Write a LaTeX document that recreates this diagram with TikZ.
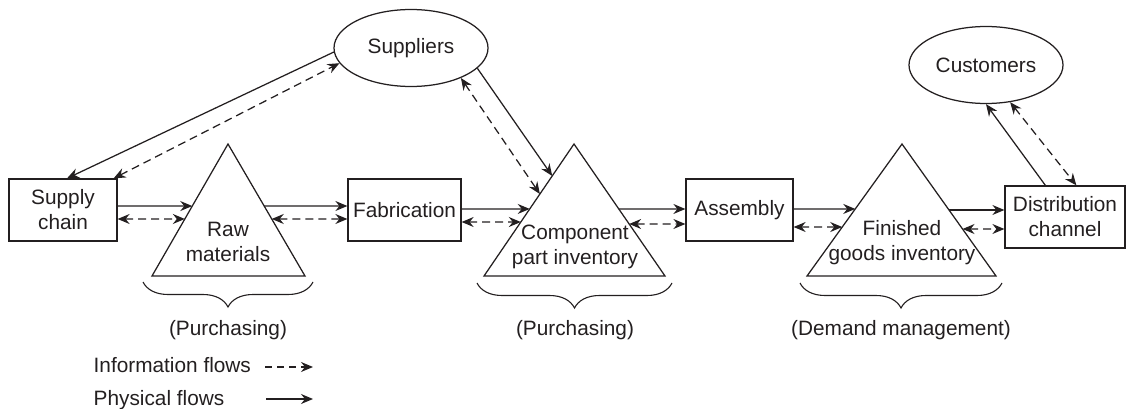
\documentclass[tikz,border=0pt]{standalone}
\usepackage{fontspec}
\setmainfont{Liberation Sans}
\usetikzlibrary{shapes.geometric,arrows.meta,calc,decorations.pathreplacing}
\definecolor{ink}{RGB}{35,31,32}
\begin{document}
\begin{tikzpicture}[x=1pt,y=-1pt,
  >={Stealth[length=12pt,width=10pt,inset=4pt]},
  every node/.style={font=\fontsize{20.8}{25}\selectfont, text=ink},
  box/.style={draw=ink, line width=1.25pt, inner sep=0pt, align=center, minimum height=62pt},
  oval/.style={draw=ink, ellipse, line width=1.25pt, minimum width=154pt, minimum height=77pt, inner sep=0pt},
  tri/.style={draw=ink, line width=1.25pt},
  phys/.style={draw=ink, line width=1.25pt, ->},
  info/.style={draw=ink, line width=1.25pt, <->, dash pattern=on 8pt off 5pt},
  bracebelow/.style={draw=ink, line width=1.1pt, decorate, decoration={brace, mirror, amplitude=25pt}}
]
\useasboundingbox (0,0) rectangle (1127,409);

% boxes and ovals
\node[box, minimum width=108pt] (sc) at (63,210) {Supply\\chain};
\node[box, minimum width=113pt] (fab) at (404.5,210) {Fabrication};
\node[box, minimum width=107pt] (asm) at (739.5,210) {Assembly};
\node[box, minimum width=120pt] (dist) at (1065,217) {Distribution\\channel};
\node[oval] (sup) at (411,48) {Suppliers};
\node[oval] (cus) at (986,65) {Customers};

% triangles
\coordinate (rawA) at (228,144); \coordinate (rawL) at (152,276); \coordinate (rawR) at (305,276);
\draw[tri] (rawA) -- (rawL) -- (rawR) -- cycle;
\node[align=center] (raw) at (228,242) {Raw\\materials};

\coordinate (compA) at (574,144); \coordinate (compL) at (484,276); \coordinate (compR) at (665,276);
\draw[tri] (compA) -- (compL) -- (compR) -- cycle;
\node[align=center] (comp) at (575,247) {Component\\part inventory};

\coordinate (finA) at (902,144); \coordinate (finL) at (807,276); \coordinate (finR) at (996,276);
\draw[tri] (finA) -- (finL) -- (finR) -- cycle;
\node[align=center] (fin) at (902,243) {Finished\\goods inventory};

% horizontal flows
\draw[phys] ($(sc.east)+(0,-4)$) -- ($(rawA)!0.47!(rawL)$);
\draw[info] ($(sc.east)+(0,9)$) -- ($(rawA)!0.568!(rawL)$);
\draw[phys] ($(rawA)!0.47!(rawR)$) -- ($(fab.west)+(0,-4)$);
\draw[info] ($(rawA)!0.568!(rawR)$) -- ($(fab.west)+(0,9)$);
\draw[phys] ($(fab.east)+(0,-1)$) -- ($(compA)!0.492!(compL)$);
\draw[info] ($(fab.east)+(0,12)$) -- ($(compA)!0.591!(compL)$);
\draw[phys] ($(compA)!0.492!(compR)$) -- ($(asm.west)+(0,-1)$);
\draw[info] ($(compA)!0.606!(compR)$) -- ($(asm.west)+(0,14)$);
\draw[phys] ($(asm.east)+(0,-1)$) -- ($(finA)!0.492!(finL)$);
\draw[info] ($(asm.east)+(0,17)$) -- ($(finA)!0.629!(finL)$);
\draw[phys] ($(finA)!0.5!(finR)$) -- ($(dist.west)+(0,-7)$);
\draw[info] ($(finA)!0.644!(finR)$) -- ($(dist.west)+(0,12)$);

% suppliers and customers flows
\draw[phys] (sup.183) -- ($(sc.north)+(4,0)$);
\draw[info] ($(sc.north east)+(-4,0)$) -- (sup.192);
\draw[phys] (sup.343) -- ($(compA)!0.242!(compL)$);
\draw[info] (sup.329) -- ($(compA)!0.379!(compL)$);
\draw[phys] ($(dist.north west)+(41,0)$) -- (cus.270);
\draw[info] (cus.303) -- ($(dist.north west)+(72,0)$);

% braces
\draw[bracebelow] (143,282) -- (313,282);
\draw[bracebelow] (477,283) -- (672,283);
\draw[bracebelow] (800,283) -- (1002,283);
\node[anchor=base] (pur1) at (228,335) {(Purchasing)};
\node[anchor=base] (pur2) at (575,335) {(Purchasing)};
\node[anchor=base] (dem) at (901,335) {(Demand management)};

% legend
\node[anchor=base west, inner sep=0pt] (infoL) at (93.5,372.5) {Information flows};
\node[anchor=base west, inner sep=0pt] (physL) at (93.5,405) {Physical flows};
\coordinate (infoS) at (265,367); \coordinate (infoE) at (313,367);
\coordinate (physS) at (266,399); \coordinate (physE) at (313,399);
\draw[phys, dash pattern=on 7pt off 5pt] (infoS) -- (infoE);
\draw[phys] (physS) -- (physE);
\end{tikzpicture}
\end{document}
